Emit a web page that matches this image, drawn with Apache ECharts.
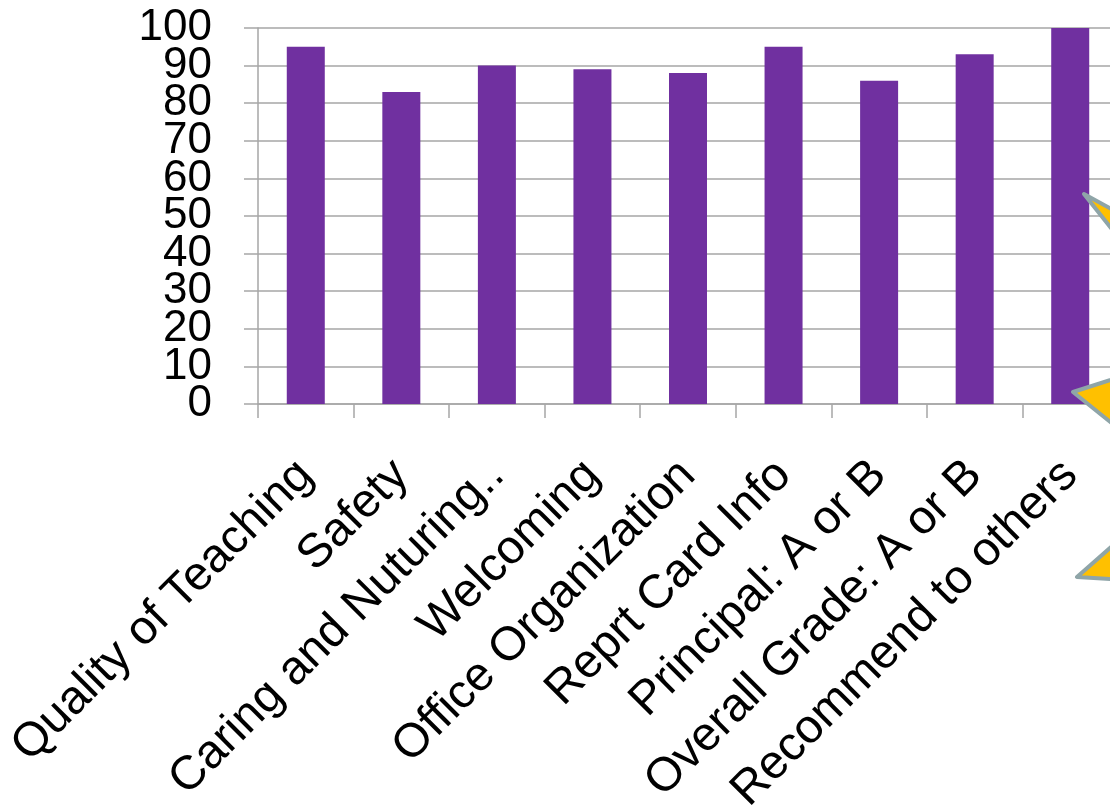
<!DOCTYPE html>
<html>
<head>
<meta charset="utf-8">
<style>
  html, body { margin: 0; padding: 0; background: #ffffff; }
  #chart { width: 1110px; height: 811px; }
</style>
<script src="https://cdn.jsdelivr.net/npm/echarts@6/dist/echarts.min.js"></script>
</head>
<body>
<div id="chart"></div>
<script>
const categories = [
  'Quality of Teaching', 'Safety', 'Caring and Nuturing..', 'Welcoming',
  'Office Organization', 'Reprt Card Info', 'Principal: A or B',
  'Overall Grade: A or B', 'Recommend to others'
];
const values = [95, 83, 90, 89, 88, 95, 86, 93, 100];
// y tick labels 0..100 every 10: even ones on the main axis, odd ones on an overlay axis
const yMin = 0, yMax = 100, yStep = 10;

const chart = echarts.init(document.getElementById('chart'), null, { renderer: 'canvas' });
const gridColor = '#a6a6a6';
const font = '"Liberation Sans", Arial, sans-serif';
const labelStyle = { fontSize: 44, fontFamily: font, color: '#000000', margin: 46 };
const tickStyle = { color: gridColor, width: 1.5 };

// main plot rectangle
const plotTop = 28, plotBottom = 407, H = 811;
const pxPerUnit = (H - plotTop - plotBottom) / (yMax - yMin);
// overlay grid spans one extra step above and below, so its ticks fall on the odd values
const overlayTop = plotTop - yStep * pxPerUnit;
const overlayBottom = plotBottom - yStep * pxPerUnit;

chart.setOption({
  animation: false,
  backgroundColor: '#ffffff',
  grid: [
    { left: 258, right: -8, top: plotTop, bottom: plotBottom, containLabel: false, outerBoundsMode: 'none' },
    { left: 258, right: -8, top: overlayTop, bottom: overlayBottom, containLabel: false, outerBoundsMode: 'none' }
  ],
  xAxis: [{
    type: 'category', gridIndex: 0,
    data: categories,
    boundaryGap: true,
    axisLine: { show: true, lineStyle: tickStyle },
    axisTick: { show: true, length: 14, alignWithLabel: false, lineStyle: tickStyle },
    axisLabel: {
      interval: 0, rotate: 45, margin: 64,
      fontSize: 47.5, fontFamily: font, color: '#000000'
    },
    splitLine: { show: false }
  }, {
    type: 'category', gridIndex: 1, data: categories,
    axisLine: { show: false }, axisTick: { show: false }, axisLabel: { show: false },
    splitLine: { show: false }
  }],
  yAxis: [{
    type: 'value', gridIndex: 0, position: 'left',
    min: yMin, max: yMax, interval: yStep * 2,
    axisLine: { show: true, lineStyle: tickStyle },
    axisTick: { show: true, inside: false, length: 14, lineStyle: tickStyle },
    minorTick: { show: true, splitNumber: 2, length: 14, lineStyle: tickStyle },
    axisLabel: Object.assign({ showMinLabel: true, showMaxLabel: true }, labelStyle),
    splitLine: { show: true, lineStyle: tickStyle },
    minorSplitLine: { show: true, lineStyle: tickStyle }
  }, {
    // overlay axis: range -10..110, ticks every 20 from -10 -> labels 10,30,...,90
    type: 'value', gridIndex: 1, position: 'left',
    min: yMin - yStep, max: yMax + yStep, interval: yStep * 2,
    axisLine: { show: false },
    axisTick: { show: false },
    minorTick: { show: true, splitNumber: 2, length: 14, lineStyle: tickStyle },
    splitLine: { show: false },
    minorSplitLine: { show: false },
    axisLabel: Object.assign({ showMinLabel: false, showMaxLabel: false }, labelStyle)
  }],
  series: [{
    type: 'bar',
    xAxisIndex: 0, yAxisIndex: 0,
    data: values,
    barWidth: 38,
    itemStyle: { color: '#7030a0' }
  }, {
    // carrier for the overlay axis; draws nothing
    type: 'line',
    xAxisIndex: 1, yAxisIndex: 1,
    data: [],
    silent: true, showSymbol: false
  }],
  graphic: [{
    type: 'polygon',
    z: 100,
    shape: {
      points: [
        [1084, 194], [1207, 349], [1073, 392], [1185, 482],
        [1077, 577], [1300, 590], [1250, 285]
      ]
    },
    style: { fill: '#ffc000', stroke: '#8fa5a8', lineWidth: 4, lineJoin: 'round' }
  }]
});
</script>
</body>
</html>
